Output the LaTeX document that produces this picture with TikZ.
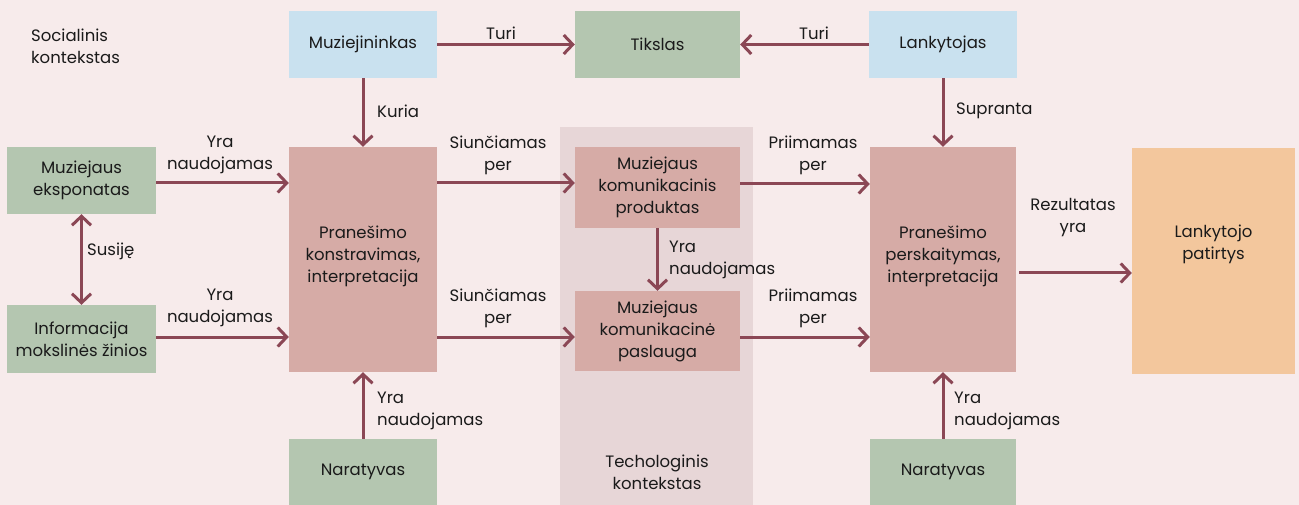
\documentclass[tikz,border=0pt]{standalone}
\usepackage{fontspec}
\setmainfont{Poppins}
\usetikzlibrary{arrows.meta}
\definecolor{bgc}{HTML}{F7EBEB}
\definecolor{bluec}{HTML}{C9E1EF}
\definecolor{greenc}{HTML}{B4C6B0}
\definecolor{rosec}{HTML}{D6ABA6}
\definecolor{techc}{HTML}{E7D6D7}
\definecolor{orangec}{HTML}{F3C79D}
\definecolor{arrc}{HTML}{8B4755}
\definecolor{txtc}{HTML}{1A1A1A}
\begin{document}
\begin{tikzpicture}[x=1pt,y=-1pt,
  every node/.style={font=\fontsize{16.5}{22}\selectfont, text=txtc},
  box/.style={inner sep=0pt, align=center},
  lbl/.style={inner sep=0pt, align=center},
  lbll/.style={inner sep=0pt, align=left, anchor=west},
  arr/.style={draw=arrc, line width=3pt, -{Straight Barb[length=9pt,width=19pt]}},
  darr/.style={draw=arrc, line width=3pt, {Straight Barb[length=9pt,width=19pt]}-{Straight Barb[length=9pt,width=19pt]}}]
\fill[bgc] (0,0) rectangle (1299,505);
\useasboundingbox (0,0) rectangle (1299,505);
\fill[techc] (560,127) rectangle (753,505);

\node[box, fill=bluec, minimum width=148pt, minimum height=67pt] (muz) at (363,44.5) {Muziejininkas};
\node[box, fill=greenc, minimum width=165pt, minimum height=67pt] (tik) at (657.5,44.5) {Tikslas};
\node[box, fill=bluec, minimum width=148pt, minimum height=67pt] (lank) at (943,44.5) {Lankytojas};
\node[box, fill=greenc, minimum width=149pt, minimum height=67pt] (eks) at (81.5,180.5) {Muziejaus\\eksponatas};
\node[box, fill=greenc, minimum width=149pt, minimum height=68pt] (inf) at (81.5,339) {Informacija\\mokslinės žinios};
\node[box, fill=rosec, minimum width=148pt, minimum height=225pt] (kon) at (363,259.5) {};
\node[box] (kont) at ([yshift=3pt]kon.center) {Pranešimo\\konstravimas,\\interpretacija};
\node[box, fill=greenc, minimum width=148pt, minimum height=66pt] (narl) at (363,472) {Naratyvas};
\node[box, fill=rosec, minimum width=165pt, minimum height=81pt] (prod) at (657.5,187.5) {Muziejaus\\komunikacinis\\produktas};
\node[box, fill=rosec, minimum width=165pt, minimum height=80pt] (pasl) at (657.5,331) {Muziejaus\\komunikacinė\\paslauga};
\node[box, fill=rosec, minimum width=146pt, minimum height=225pt] (per) at (943,259.5) {};
\node[box] (pert) at ([yshift=3pt]per.center) {Pranešimo\\perskaitymas,\\interpretacija};
\node[box, fill=orangec, minimum width=163pt, minimum height=225pt] (pat) at (1213.5,261) {};
\node[box] (patt) at ([yshift=17pt]pat.center) {Lankytojo\\patirtys};
\node[box, fill=greenc, minimum width=146pt, minimum height=66pt] (narr) at (943,472) {Naratyvas};

\node[lbll] (soc) at (31,46) {Socialinis\\kontekstas};
\node[lbl] (tech) at (657,472) {Techologinis\\kontekstas};

\draw[arr] (muz.east) -- (tik.west);
\draw[arr] (lank.west) -- (tik.east);
\draw[arr] (muz.south) -- (kon.north);
\draw[arr] (lank.south) -- (per.north);
\draw[arr] ([yshift=-2.5pt]eks.east) -- ([yshift=-2.5pt]eks.east -| kon.west);
\draw[arr] ([yshift=2pt]inf.east) -- ([yshift=2pt]inf.east -| kon.west);
\draw[darr] (eks.south) -- (inf.north);
\draw[arr] ([yshift=4.5pt]prod.west -| kon.east) -- ([yshift=4.5pt]prod.west);
\draw[arr] ([yshift=-6pt]pasl.west -| kon.east) -- ([yshift=-6pt]pasl.west);
\draw[arr] ([yshift=3.5pt]prod.east) -- ([yshift=3.5pt]prod.east -| per.west);
\draw[arr] ([yshift=-6pt]pasl.east) -- ([yshift=-6pt]pasl.east -| per.west);
\draw[arr] (prod.south) -- (pasl.north);
\draw[arr] (narl.north) -- (kon.south);
\draw[arr] (narr.north) -- (per.south);
\draw[arr] ([xshift=3pt,yshift=-13.5pt]per.east) -- ([yshift=-13.5pt]per.east -| pat.west);

\node[lbl] (t1) at (501,33) {Turi};
\node[lbl] (t2) at (814,33) {Turi};
\node[lbll] (ku) at (377,111) {Kuria};
\node[lbll] (su) at (956,111) {Supranta};
\node[lbl] (y1) at (220,155) {Yra\\naudojamas};
\node[lbl] (y2) at (220,308) {Yra\\naudojamas};
\node[lbl] (s1) at (498,155) {Siunčiamas\\per};
\node[lbl] (s2) at (498,308) {Siunčiamas\\per};
\node[lbl] (p1) at (813,155) {Priimamas\\per};
\node[lbl] (p2) at (813,308) {Priimamas\\per};
\node[lbll] (y3) at (669,260) {Yra\\naudojamas};
\node[lbll] (y4) at (377,411) {Yra\\naudojamas};
\node[lbll] (y5) at (954,411) {Yra\\naudojamas};
\node[lbl] (rez) at (1073,218) {Rezultatas\\yra};
\node[lbll] (sus) at (87,251) {Susiję};
\end{tikzpicture}
\end{document}
